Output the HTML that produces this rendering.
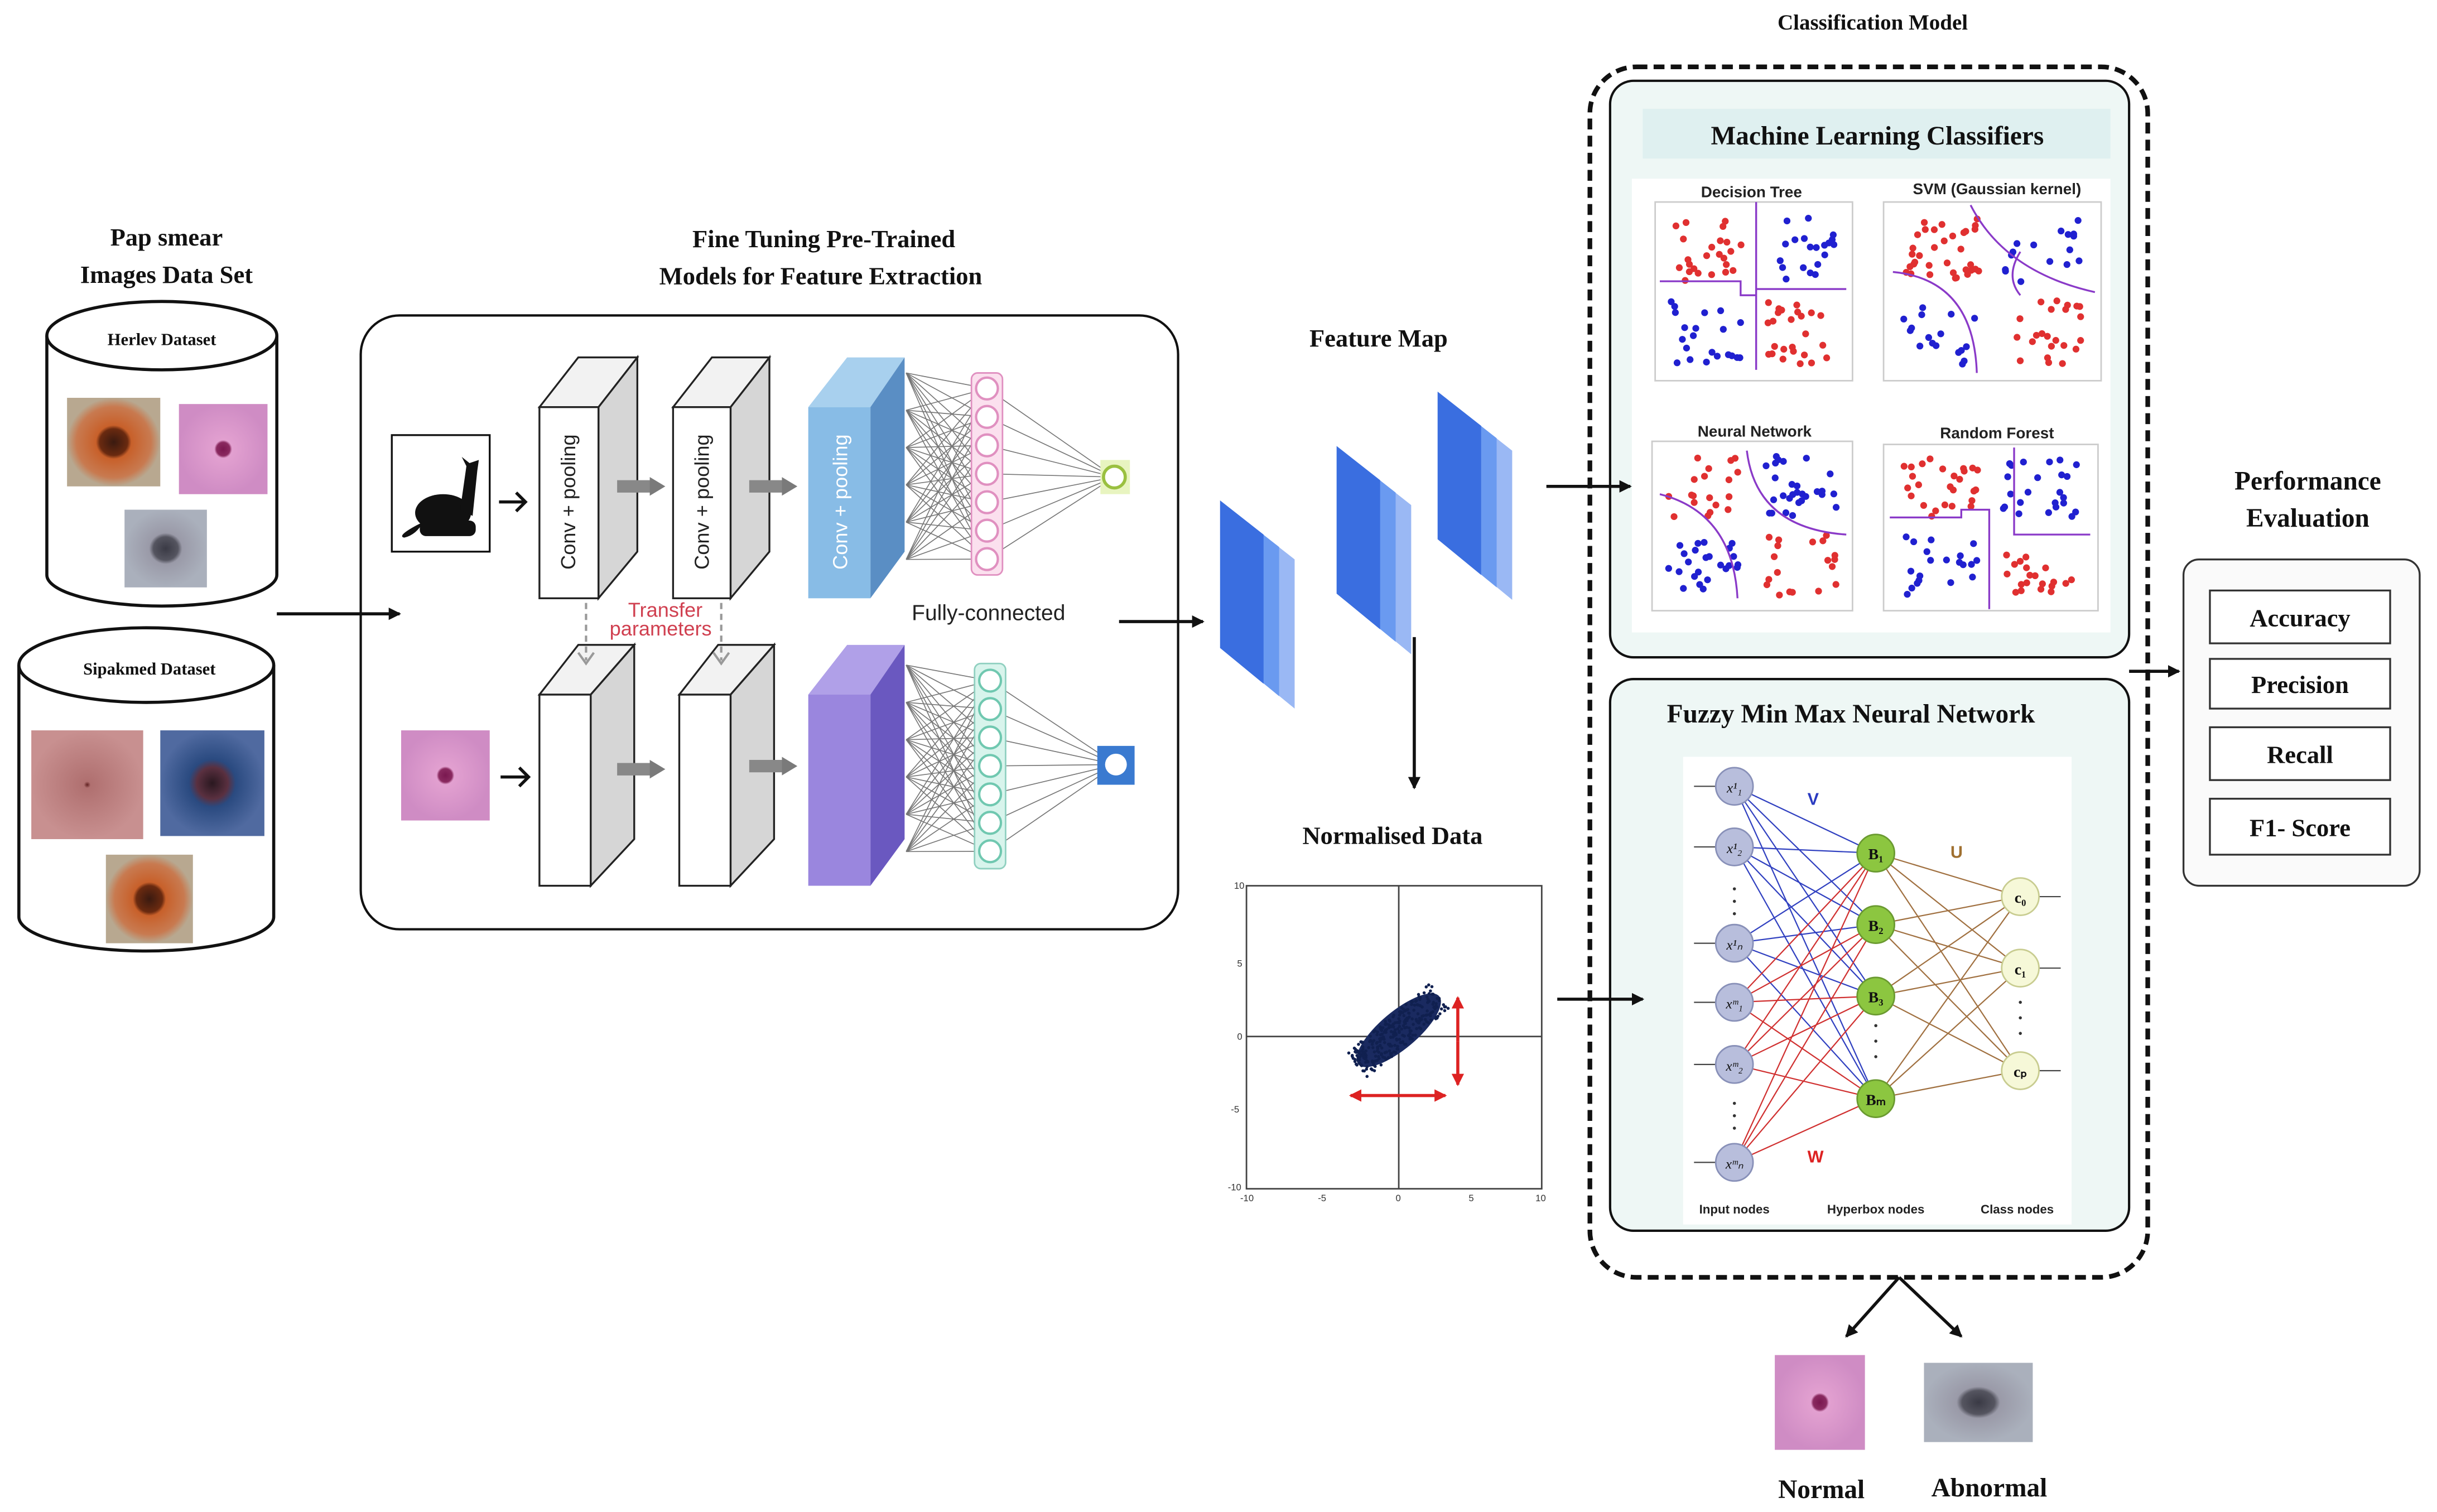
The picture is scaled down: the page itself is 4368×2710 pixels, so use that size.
<!DOCTYPE html>
<html><head><meta charset="utf-8"><style>
html,body{margin:0;padding:0;background:#fff}
svg{display:block}
.t{font-family:"Liberation Serif",serif;font-weight:bold;fill:#111}
.s{font-family:"Liberation Sans",sans-serif}
</style></head><body>
<svg id="m" width="4368" height="2710" viewBox="0 0 1568 973" xmlns="http://www.w3.org/2000/svg">
<defs>
<marker id="a" markerWidth="8" markerHeight="8" refX="7" refY="4" orient="auto" markerUnits="userSpaceOnUse"><path d="M0,0 L8,4 L0,8 z" fill="#111"/></marker>
<marker id="ar" markerWidth="8" markerHeight="8" refX="7" refY="4" orient="auto" markerUnits="userSpaceOnUse"><path d="M0,0 L8,4 L0,8 z" fill="#d22"/></marker>
<marker id="ag" markerWidth="10" markerHeight="12" refX="2" refY="6" orient="auto" markerUnits="userSpaceOnUse"><path d="M0,0 L10,6 L0,12 z" fill="#7a7a7a"/></marker>
<radialGradient id="pink"><stop offset="0" stop-color="#7a1850"/><stop offset="0.15" stop-color="#8a2a60"/><stop offset="0.2" stop-color="#e2a0d0"/><stop offset="1" stop-color="#cf8cc4"/></radialGradient>
<radialGradient id="orng"><stop offset="0" stop-color="#3a1a10"/><stop offset="0.3" stop-color="#6a2a10"/><stop offset="0.38" stop-color="#c8602a"/><stop offset="0.8" stop-color="#c87a50"/><stop offset="1" stop-color="#b8a890"/></radialGradient>
<radialGradient id="gray"><stop offset="0" stop-color="#3a3a45"/><stop offset="0.3" stop-color="#555560"/><stop offset="0.4" stop-color="#9a9aa8"/><stop offset="1" stop-color="#aab0bc"/></radialGradient>
<radialGradient id="blue"><stop offset="0" stop-color="#2a1820"/><stop offset="0.3" stop-color="#5a3040"/><stop offset="0.45" stop-color="#2a4a80"/><stop offset="1" stop-color="#506aa0"/></radialGradient>
<radialGradient id="salm"><stop offset="0" stop-color="#602020"/><stop offset="0.06" stop-color="#b07070"/><stop offset="1" stop-color="#c89090"/></radialGradient>
</defs>

<!-- Dataset -->
<text class="t" x="107" y="158" font-size="16" text-anchor="middle">Pap smear</text>
<text class="t" x="107" y="182" font-size="16" text-anchor="middle">Images Data Set</text>
<path d="M30,216 L30,370 A74,20 0 0 0 178,370 L178,216" fill="#fff" stroke="#111" stroke-width="2"/>
<ellipse cx="104" cy="216" rx="74" ry="22" fill="#fff" stroke="#111" stroke-width="2"/>
<text class="t" x="104" y="222" font-size="11" text-anchor="middle">Herlev Dataset</text>
<rect x="43" y="256" width="60" height="57" fill="url(#orng)"/>
<rect x="115" y="260" width="57" height="58" fill="url(#pink)"/>
<rect x="80" y="328" width="53" height="50" fill="url(#gray)"/>
<path d="M12,428 L12,590 A82,22 0 0 0 176,590 L176,428" fill="#fff" stroke="#111" stroke-width="2"/>
<ellipse cx="94" cy="428" rx="82" ry="24" fill="#fff" stroke="#111" stroke-width="2"/>
<text class="t" x="96" y="434" font-size="11" text-anchor="middle">Sipakmed Dataset</text>
<rect x="20" y="470" width="72" height="70" fill="url(#salm)"/>
<rect x="103" y="470" width="67" height="68" fill="url(#blue)"/>
<rect x="68" y="550" width="56" height="57" fill="url(#orng)"/>

<!-- CNN -->
<text class="t" x="530" y="159" font-size="16" text-anchor="middle">Fine Tuning Pre-Trained</text>
<text class="t" x="528" y="183" font-size="16" text-anchor="middle">Models for Feature Extraction</text>
<rect x="232" y="203" width="526" height="395" rx="25" fill="#fff" stroke="#111" stroke-width="1.5"/>
<rect x="252" y="280" width="63" height="75" fill="#fff" stroke="#111" stroke-width="1.2"/>
<g fill="#111"><ellipse cx="285" cy="330" rx="18" ry="12"/><path d="M296,328 L300,300 L297,294 L302,298 L308,296 L307,303 L304,332 z"/><path d="M268,338 Q255,345 260,346 Q268,344 272,336 z"/><rect x="270" y="335" width="36" height="10" rx="4"/></g>
<g stroke="#111" stroke-width="2" fill="none"><path d="M321,323 L338,323 M332,317 L338,323 L332,329"/><path d="M322,500 L340,500 M334,494 L340,500 L334,506"/></g>
<g stroke="#222" stroke-width="1.2">
<polygon points="347,262 372,230 410,230 385,262" fill="#f2f2f2"/><polygon points="385,262 410,230 410,355 385,385" fill="#d6d6d6"/><rect x="347" y="262" width="38" height="123" fill="#fff"/>
<polygon points="433,262 458,230 495,230 470,262" fill="#f2f2f2"/><polygon points="470,262 495,230 495,355 470,385" fill="#d6d6d6"/><rect x="433" y="262" width="37" height="123" fill="#fff"/>
<polygon points="347,447 372,415 408,415 380,447" fill="#f2f2f2"/><polygon points="380,447 408,415 408,540 380,570" fill="#d6d6d6"/><rect x="347" y="447" width="33" height="123" fill="#fff"/>
<polygon points="437,447 462,415 498,415 470,447" fill="#f2f2f2"/><polygon points="470,447 498,415 498,540 470,570" fill="#d6d6d6"/><rect x="437" y="447" width="33" height="123" fill="#fff"/>
</g>
<polygon points="520,262 545,230 582,230 560,262" fill="#a8d0ee"/><polygon points="560,262 582,230 582,355 560,385" fill="#5a8ec4"/><rect x="520" y="262" width="40" height="123" fill="#88bce6"/>
<polygon points="520,447 545,415 582,415 560,447" fill="#b0a0e8"/><polygon points="560,447 582,415 582,540 560,570" fill="#6a58c0"/><rect x="520" y="447" width="40" height="123" fill="#9a86de"/>
<g class="s" font-size="13" fill="#222" text-anchor="middle">
<text transform="translate(370,323) rotate(-90)">Conv + pooling</text>
<text transform="translate(456,323) rotate(-90)">Conv + pooling</text>
<text transform="translate(545,323) rotate(-90)" fill="#fff">Conv + pooling</text>
<text x="636" y="399" font-size="14">Fully-connected</text>
<text x="428" y="397" font-size="13" fill="#d04050">Transfer</text>
<text x="425" y="409" font-size="13" fill="#d04050">parameters</text>
</g>
<g stroke="#888" stroke-width="8"><line x1="397" y1="313" x2="420" y2="313" marker-end="url(#ag)"/><line x1="482" y1="313" x2="505" y2="313" marker-end="url(#ag)"/><line x1="397" y1="495" x2="420" y2="495" marker-end="url(#ag)"/><line x1="482" y1="493" x2="505" y2="493" marker-end="url(#ag)"/></g>
<g stroke="#999" stroke-width="1.5" stroke-dasharray="4,3"><line x1="377" y1="388" x2="377" y2="425"/><line x1="464" y1="388" x2="464" y2="425"/></g>
<g stroke="#999" stroke-width="1.5" fill="none"><path d="M372,420 L377,427 L382,420"/><path d="M459,420 L464,427 L469,420"/></g>
<g id="net"></g>
<rect x="625" y="240" width="20" height="130" rx="4" fill="#fbe0ee" stroke="#e090c0"/>
<rect x="627" y="427" width="20" height="132" rx="4" fill="#d8f4ec" stroke="#90d0c0"/>
<g id="nodes"></g>
<rect x="708" y="296" width="19" height="22" fill="#e8f4c0"/>
<circle cx="717" cy="307" r="7" fill="#fff" stroke="#9ac040" stroke-width="2"/>
<rect x="706" y="480" width="24" height="25" fill="#3a7ad0"/>
<circle cx="718" cy="492" r="7" fill="#fff"/>
<rect x="258" y="470" width="57" height="58" fill="url(#pink)"/>

<!-- feature maps -->
<text class="t" x="887" y="223" font-size="16" text-anchor="middle">Feature Map</text>
<g id="fm"></g>

<!-- normalised -->
<text class="t" x="896" y="543" font-size="16" text-anchor="middle">Normalised Data</text>
<rect x="802" y="570" width="190" height="195" fill="#fff" stroke="#444" stroke-width="1"/>
<line x1="900" y1="570" x2="900" y2="765" stroke="#444"/><line x1="802" y1="667" x2="992" y2="667" stroke="#444"/>
<g class="s" font-size="6" fill="#333"><text x="794" y="572">10</text><text x="796" y="622">5</text><text x="796" y="669">0</text><text x="792" y="716">-5</text><text x="790" y="766">-10</text><text x="798" y="773">-10</text><text x="848" y="773">-5</text><text x="898" y="773">0</text><text x="945" y="773">5</text><text x="988" y="773">10</text></g>
<ellipse cx="900" cy="663" rx="34" ry="12" transform="rotate(-40 900 663)" fill="#1a2a60"/>
<g id="blob"></g>
<line x1="938" y1="670" x2="938" y2="642" stroke="#d22" stroke-width="2" marker-end="url(#ar)"/>
<line x1="938" y1="670" x2="938" y2="698" stroke="#d22" stroke-width="2" marker-end="url(#ar)"/>
<line x1="898" y1="705" x2="869" y2="705" stroke="#d22" stroke-width="2" marker-end="url(#ar)"/>
<line x1="898" y1="705" x2="930" y2="705" stroke="#d22" stroke-width="2" marker-end="url(#ar)"/>

<!-- classification -->
<text class="t" x="1205" y="19" font-size="14" text-anchor="middle">Classification Model</text>
<rect x="1023" y="43" width="359" height="779" rx="30" fill="none" stroke="#111" stroke-width="3" stroke-dasharray="7,4"/>
<rect x="1036" y="52" width="334" height="371" rx="15" fill="#eef7f5" stroke="#111" stroke-width="1.5"/>
<rect x="1057" y="70" width="301" height="32" fill="#dff0f0"/>
<text class="t" x="1208" y="93" font-size="17" text-anchor="middle">Machine Learning Classifiers</text>
<rect x="1050" y="115" width="308" height="292" fill="#fff"/>
<g class="s" font-size="10" font-weight="bold" fill="#222" text-anchor="middle">
<text x="1127" y="127">Decision Tree</text><text x="1285" y="125">SVM (Gaussian kernel)</text>
<text x="1129" y="281">Neural Network</text><text x="1285" y="282">Random Forest</text></g>
<g fill="none" stroke="#ccc"><rect x="1065" y="130" width="127" height="115"/><rect x="1212" y="130" width="140" height="115"/><rect x="1063" y="284" width="129" height="109"/><rect x="1212" y="286" width="138" height="107"/></g>
<g id="dots"></g>
<g stroke="#8a3ac8" stroke-width="1.2" fill="none">
<path d="M1068,181 L1120,181 L1120,190 L1130,190 L1130,238 M1130,190 L1130,130 M1130,186 L1188,186"/>
<path d="M1218,175 Q1270,180 1272,240 M1268,132 Q1290,175 1348,188 M1300,162 Q1290,178 1300,190"/>
<path d="M1068,318 Q1115,330 1118,385 M1124,290 Q1130,340 1188,344"/>
<path d="M1216,333 L1262,333 L1262,328 L1280,328 L1280,392 M1296,288 L1296,344 L1345,344"/>
</g>
<rect x="1036" y="437" width="334" height="355" rx="15" fill="#eef7f5" stroke="#111" stroke-width="1.5"/>
<text class="t" x="1191" y="465" font-size="17" text-anchor="middle">Fuzzy Min Max Neural Network</text>
<rect x="1083" y="487" width="250" height="301" fill="#fff"/>
<g id="fm2"></g>
<g class="s" font-size="8" font-weight="bold" fill="#222" text-anchor="middle"><text x="1116" y="781">Input nodes</text><text x="1207" y="781">Hyperbox nodes</text><text x="1298" y="781">Class nodes</text></g>
<g class="s" font-size="11" font-weight="bold"><text x="1163" y="518" fill="#2a3ac0">V</text><text x="1255" y="552" fill="#a07030">U</text><text x="1163" y="748" fill="#d22">W</text></g>

<!-- performance -->
<text class="t" x="1485" y="315" font-size="17" text-anchor="middle">Performance</text>
<text class="t" x="1485" y="339" font-size="17" text-anchor="middle">Evaluation</text>
<rect x="1405" y="360" width="152" height="210" rx="10" fill="#fafafa" stroke="#333" stroke-width="1.2"/>
<g fill="#fff" stroke="#333" stroke-width="1.2"><rect x="1422" y="380" width="116" height="34"/><rect x="1422" y="424" width="116" height="32"/><rect x="1422" y="468" width="116" height="34"/><rect x="1422" y="514" width="116" height="36"/></g>
<g class="t" font-size="16" text-anchor="middle"><text x="1480" y="403">Accuracy</text><text x="1480" y="446">Precision</text><text x="1480" y="491">Recall</text><text x="1480" y="538">F1- Score</text></g>

<!-- outputs -->
<rect x="1142" y="872" width="58" height="61" fill="url(#pink)"/>
<rect x="1238" y="877" width="70" height="51" fill="url(#gray)"/>
<g class="t" font-size="17" text-anchor="middle"><text x="1172" y="964">Normal</text><text x="1280" y="963">Abnormal</text></g>

<!-- arrows on top -->
<g stroke="#111" stroke-width="2">
<line x1="178" y1="395" x2="257" y2="395" marker-end="url(#a)"/>
<line x1="720" y1="400" x2="774" y2="400" marker-end="url(#a)"/>
<line x1="910" y1="410" x2="910" y2="507" marker-end="url(#a)"/>
<line x1="995" y1="313" x2="1049" y2="313" marker-end="url(#a)"/>
<line x1="1002" y1="643" x2="1057" y2="643" marker-end="url(#a)"/>
<line x1="1370" y1="432" x2="1402" y2="432" marker-end="url(#a)"/>
<line x1="1222" y1="822" x2="1188" y2="860" marker-end="url(#a)"/>
<line x1="1222" y1="822" x2="1262" y2="860" marker-end="url(#a)"/>
</g>
</svg>
<script>
var NS="http://www.w3.org/2000/svg";
function el(p,t,a){var e=document.createElementNS(NS,t);for(var k in a)e.setAttribute(k,a[k]);document.getElementById(p).appendChild(e);return e;}
[[250,583,635,717,307],[438,583,637,718,492]].forEach(function(r){
 var y0=r[0];for(var i=0;i<7;i++){var ny=y0+i*18.3;
  for(var j=0;j<6;j++)el("net","line",{x1:r[1],y1:y0-10+j*24,x2:r[2],y2:ny,stroke:"#777","stroke-width":0.6});
  el("net","line",{x1:r[2],y1:ny,x2:r[3],y2:r[4],stroke:"#777","stroke-width":0.6});}
});
[[250,635,"#e090c0"],[438,637,"#70c8b0"]].forEach(function(r){for(var i=0;i<7;i++)el("nodes","circle",{cx:r[1],cy:r[0]+i*18.3,r:7,fill:"#fff",stroke:r[2],"stroke-width":1.5});});
[[785,322],[860,287],[925,252]].forEach(function(s){var c=["#3a6ee0","#6a9af0","#9ab8f4"];
 for(var k=2;k>=0;k--){var x=s[0]+k*10,y=s[1]+k*8;el("fm","polygon",{points:x+","+y+" "+(x+28)+","+(y+22)+" "+(x+28)+","+(y+118)+" "+x+","+(y+95),fill:c[k]});}});
var sd=7;function rnd(){sd=(sd*9301+49297)%233280;return sd/233280;}
for(var i=0;i<300;i++){var t=(rnd()-0.5)*70,u=(rnd()-0.5)*20;var a=-0.7;el("blob","circle",{cx:900+t*Math.cos(a)-u*Math.sin(a),cy:663+t*Math.sin(a)+u*Math.cos(a),r:1,fill:"#102050"});}
[[1065,130,127,115],[1212,130,140,115],[1063,284,129,109],[1212,286,138,107]].forEach(function(b){
 var cx=b[0]+b[2]/2,cy=b[1]+b[3]/2;
 for(var i=0;i<90;i++){var q=Math.floor(rnd()*4);var qx=(q%2)?1:-1,qy=(q<2)?-1:1;
  var x=cx+qx*(8+rnd()*b[2]*0.36),y=cy+qy*(6+rnd()*b[3]*0.36);
  var col=(q==0||q==3)?"#e03030":"#2020d0";
  el("dots","circle",{cx:x,cy:y,r:2.2,fill:col});}});
var inp=[506,545,607,645,685,748],hb=[549,595,641,707],cl=[577,623,689];
inp.forEach(function(y,i){hb.forEach(function(h){el("fm2","line",{x1:1116,y1:y,x2:1207,y2:h,stroke:i<3?"#3040c0":"#d03030","stroke-width":0.8});});el("fm2","line",{x1:1090,y1:y,x2:1104,y2:y,stroke:"#444","stroke-width":0.8});});
hb.forEach(function(h){cl.forEach(function(c){el("fm2","line",{x1:1207,y1:h,x2:1300,y2:c,stroke:"#a07040","stroke-width":0.8});});});
cl.forEach(function(c){el("fm2","line",{x1:1312,y1:c,x2:1326,y2:c,stroke:"#444","stroke-width":0.8});});
var il=["x¹₁","x¹₂","x¹ₙ","xᵐ₁","xᵐ₂","xᵐₙ"];
inp.forEach(function(y,i){el("fm2","circle",{cx:1116,cy:y,r:12,fill:"#b8bedc",stroke:"#8890b8"});var t=el("fm2","text",{x:1116,y:y+4,"font-size":9,"text-anchor":"middle","font-family":"Liberation Serif","font-style":"italic",fill:"#111"});t.textContent=il[i];});
var hl=["B₁","B₂","B₃","Bₘ"];
hb.forEach(function(y,i){el("fm2","circle",{cx:1207,cy:y,r:12,fill:"#8cc640",stroke:"#6a9a30"});var t=el("fm2","text",{x:1207,y:y+4,"font-size":10,"text-anchor":"middle","font-family":"Liberation Serif","font-weight":"bold",fill:"#111"});t.textContent=hl[i];});
var cll=["c₀","c₁","cₚ"];
cl.forEach(function(y,i){el("fm2","circle",{cx:1300,cy:y,r:12,fill:"#f6f8d8",stroke:"#c8cc90"});var t=el("fm2","text",{x:1300,y:y+4,"font-size":10,"text-anchor":"middle","font-family":"Liberation Serif","font-weight":"bold",fill:"#111"});t.textContent=cll[i];});
[[1116,572],[1116,580],[1116,588],[1116,710],[1116,718],[1116,726],[1207,660],[1207,670],[1207,680],[1300,645],[1300,655],[1300,665]].forEach(function(p){el("fm2","circle",{cx:p[0],cy:p[1],r:1,fill:"#333"});});
</script>
</body></html>
